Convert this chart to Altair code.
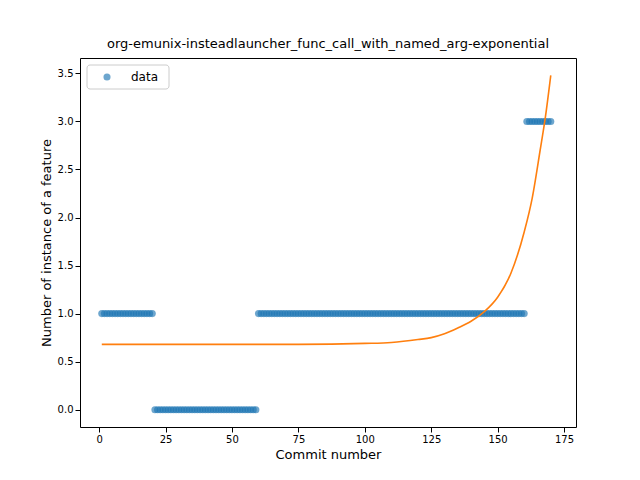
import altair as alt
import pandas as pd

# Observed feature counts per commit (read as runs from the picture)
commits = list(range(1, 171))
counts = [1] * 20 + [0] * 39 + [1] * 101 + [3] * 10

# Fitted exponential curve
fit_x = [1, 25, 50, 75, 100, 110, 120, 125, 130, 135, 140, 145, 150, 155, 160, 163, 166, 168, 170]
fit_y = [0.68, 0.68, 0.68, 0.68, 0.69, 0.70, 0.73, 0.75, 0.79, 0.85, 0.92, 1.02, 1.17, 1.42, 1.85, 2.2, 2.7, 3.05, 3.48]

points = pd.DataFrame({"commit": commits, "count": counts})
fit = pd.DataFrame({"commit": fit_x, "count": fit_y})

x_scale = alt.Scale(domain=[-7.2, 179.5], nice=False, zero=False)
y_scale = alt.Scale(domain=[-0.18, 3.66], nice=False, zero=False)

x_enc = alt.X("commit:Q", scale=x_scale, title="Commit number",
              axis=alt.Axis(values=[0, 25, 50, 75, 100, 125, 150, 175], grid=False,
                            titleFontSize=13, titleFontWeight="normal", labelFontSize=10))
y_enc = alt.Y("count:Q", scale=y_scale, title="Number of instance of a feature",
              axis=alt.Axis(values=[0, 0.5, 1, 1.5, 2, 2.5, 3, 3.5], format=".1f", grid=False,
                            titleFontSize=13, titleFontWeight="normal", labelFontSize=10))

dots = alt.Chart(points).mark_circle(size=50, color="#1f77b4", opacity=0.65).encode(x_enc, y_enc)
curve = alt.Chart(fit).mark_line(color="#ff7f0e", strokeWidth=1.6, interpolate="monotone").encode(x_enc, y_enc)

# Legend box drawn by hand, matplotlib style
legend_box = alt.Chart(pd.DataFrame({"a": [0]})).mark_rect(
    fill="white", stroke="#cccccc", cornerRadius=3
).encode(x=alt.value(7), x2=alt.value(89), y=alt.value(7), y2=alt.value(31))
legend_dot = alt.Chart(pd.DataFrame({"a": [0]})).mark_circle(
    size=50, color="#1f77b4", opacity=0.65
).encode(x=alt.value(27), y=alt.value(19))
legend_text = alt.Chart(pd.DataFrame({"a": [0]})).mark_text(
    text="data", align="left", baseline="middle", fontSize=12, font="DejaVu Sans"
).encode(x=alt.value(51), y=alt.value(19))

chart = (
    alt.layer(dots, curve, legend_box, legend_dot, legend_text)
    .properties(
        width=496, height=369,
        title=alt.TitleParams("org-emunix-insteadlauncher_func_call_with_named_arg-exponential",
                              fontSize=13, fontWeight="normal", font="DejaVu Sans", offset=7),
        padding={"left": 72, "top": 50, "right": 10, "bottom": 45},
        autosize=alt.AutoSizeParams(type="none"),
    )
    .configure_view(stroke="black", strokeWidth=1)
    .configure_axis(labelFont="DejaVu Sans", titleFont="DejaVu Sans", labelColor="black",
                    titleColor="black", domainColor="black", tickColor="black", domain=False)
)

chart.save("out.html", embed_options={"renderer": "svg", "actions": False})
